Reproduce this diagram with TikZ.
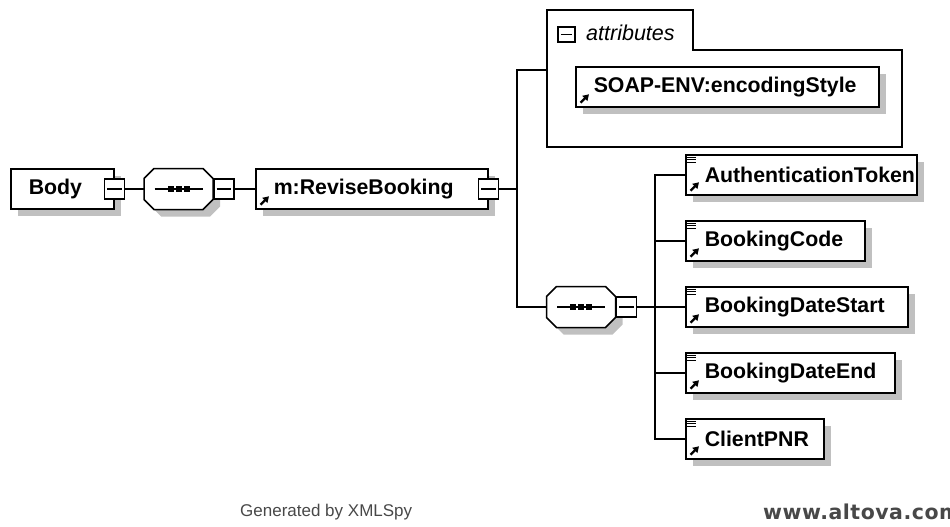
\documentclass[tikz,border=0pt]{standalone}
\usepackage{fontspec}
\setmainfont{Liberation Sans}
\newfontfamily\altovafont[BoldFont={DejaVu Sans Bold}, LetterSpace=2.5]{DejaVu Sans}
\usetikzlibrary{arrows.meta}

\definecolor{shadowgray}{RGB}{192,192,192}
\definecolor{footgray}{RGB}{72,72,72}

\tikzset{
  shadowed/.style={preaction={fill=shadowgray, draw=none, transform canvas={xshift=7pt,yshift=-7pt}}},
  box/.style={rectangle, draw, fill=white, line width=1.5pt, shadowed, inner xsep=0pt, inner ysep=0pt, align=left, anchor=west, minimum height=40pt, font=\fontsize{21.3}{24}\selectfont\bfseries},
  seq/.style={rectangle, minimum width=69pt, minimum height=41pt, inner sep=0pt},
  btn/.style={rectangle, draw, fill=white, line width=1.5pt, minimum size=20pt, inner sep=0pt},
  wire/.style={line width=1.5pt},
}

\begin{document}
\begin{tikzpicture}[x=1pt,y=-1pt]
\useasboundingbox (0,0) rectangle (950,527);
% main row
\node[box, text width=103pt] (bodyBox) at (10,189) {\hspace*{18pt}Body};
\node[seq] (seqA) at (178.5,189) {};
\node[box, text width=232pt] (revise) at (255,189) {\hspace*{18pt}m:ReviseBooking};

% attributes
\draw[wire] (547,10) -- (693,10) -- (693,50) -- (902,50) -- (902,147) -- (547,147) -- cycle;
\node[anchor=west, inner sep=0pt, font=\fontsize{21.5}{24}\selectfont\itshape] (attrLabel) at (586,33) {attributes};
\node[box, text width=303pt] (encStyle) at (575,87) {\hspace*{18pt}SOAP-ENV:encodingStyle};

% sequence of elements
\node[seq] (seqB) at (581,307) {};
\node[box, text width=231pt] (authToken) at (685,175) {\hspace*{19pt}AuthenticationToken};
\node[box, text width=179pt] (bookCode) at (685,241) {\hspace*{19pt}BookingCode};
\node[box, text width=222pt] (dateStart) at (685,307) {\hspace*{19pt}BookingDateStart};
\node[box, text width=209pt] (dateEnd) at (685,373) {\hspace*{19pt}BookingDateEnd};
\node[box, text width=138pt] (clientPnr) at (685,439) {\hspace*{19pt}ClientPNR};

% octagons for the sequences
\foreach \s in {seqA,seqB} {
  \begin{scope}[shift={(\s.center)}]
    \fill[shadowgray, xshift=7pt, yshift=-7pt] (-24.5,-20.5) -- (24.5,-20.5) -- (34.5,-10.5) -- (34.5,10.5)
      -- (24.5,20.5) -- (-24.5,20.5) -- (-34.5,10.5) -- (-34.5,-10.5) -- cycle;
    \draw[wire, fill=white] (-24.5,-20.5) -- (24.5,-20.5) -- (34.5,-10.5) -- (34.5,10.5)
      -- (24.5,20.5) -- (-24.5,20.5) -- (-34.5,10.5) -- (-34.5,-10.5) -- cycle;
    \draw[wire] (-24,0) -- (24,0);
    \foreach \dx in {-8,0,8}
      \fill (\dx-3,-3) rectangle (\dx+3,3);
  \end{scope}
}

% collapse buttons
\node[btn] (bodyBtn) at (bodyBox.east) {};
\node[btn, anchor=west] (seqABtn) at (seqA.east) {};
\node[btn] (reviseBtn) at (revise.east) {};
\node[btn, anchor=west] (seqBBtn) at (seqB.east) {};
\node[btn, minimum width=17pt, minimum height=15pt] (attrBtn) at (566.5,34.5) {};
\foreach \b in {bodyBtn,seqABtn,reviseBtn,seqBBtn,attrBtn}
  \draw[line width=1.2pt] ([xshift=3.5pt]\b.west) -- ([xshift=-3.5pt]\b.east);

\coordinate (forkA) at (517,189);
\coordinate (attrIn) at (547,70);
\coordinate (forkB) at (655,307);

% connectors
\draw[wire] (bodyBtn.east) -- (seqA.west);
\draw[wire] (seqABtn.east) -- (revise.west);
\draw[wire] (reviseBtn.east) -- (forkA);
\draw[wire] (attrIn) -| (forkA) |- (seqB.west);
\draw[wire] (seqBBtn.east) -- (forkB);
\foreach \e in {authToken,bookCode,dateStart,dateEnd,clientPnr}
  \draw[wire] (forkB) |- (\e.west);

% icons
\foreach \e in {revise,encStyle,authToken,bookCode,dateStart,dateEnd,clientPnr}
  \draw[line width=2.2pt, -{Triangle[length=6pt,width=7pt]}] ([shift={(5.5,-5)}]\e.south west) -- ++(8.5,-8.5);
\foreach \e in {authToken,bookCode,dateStart,dateEnd,clientPnr}
  \foreach \dy in {3,5.5,8}
    \draw[line width=1pt] ([shift={(2,\dy)}]\e.north west) -- ++(9,0);

% footer
\node[anchor=west, inner sep=0pt, text=footgray, font=\fontsize{17}{20}\selectfont] (genBy) at (240,512) {Generated by XMLSpy};
\node[anchor=west, inner sep=0pt, text=footgray, font=\altovafont\fontsize{20.5}{24}\selectfont\bfseries] (altova) at (763,512) {www.altova.com};
\end{tikzpicture}
\end{document}
